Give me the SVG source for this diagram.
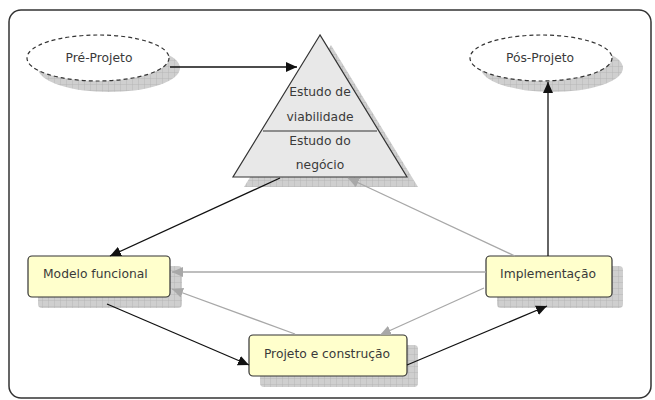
<svg xmlns="http://www.w3.org/2000/svg" width="655" height="400" viewBox="0 0 655 400">
  <defs>
    <!-- hatched grey drop shadow -->
    <pattern id="grid" patternUnits="userSpaceOnUse" width="6" height="6">
      <rect width="6" height="6" fill="#cfcfcf"/>
      <path d="M0,0 V6 M0,0 H6" stroke="#b3b3b3" stroke-width="0.8" fill="none"/>
    </pattern>
    <marker id="arrDark" markerUnits="userSpaceOnUse" markerWidth="11" markerHeight="10" refX="11" refY="5" orient="auto">
      <path d="M0,0 L11,5 L0,10 z" fill="#111"/>
    </marker>
    <marker id="arrLight" markerUnits="userSpaceOnUse" markerWidth="11" markerHeight="10" refX="11" refY="5" orient="auto">
      <path d="M0,0 L11,5 L0,10 z" fill="#a8a8a8"/>
    </marker>
    <style>
      .frame { fill: #ffffff; stroke: #333333; stroke-width: 1.5; }
      .shadow { fill: url(#grid); }
      .oval { fill: #ffffff; stroke: #333333; stroke-width: 1.2; stroke-dasharray: 4 3; }
      .box { fill: #ffffcc; stroke: #333333; stroke-width: 1.2; }
      .pyr { fill: #e8e8e8; stroke: #333333; stroke-width: 1.2; }
      .lbl { font-family: "DejaVu Sans", "Liberation Sans", sans-serif; font-size: 12.3px; fill: #3a3a3a; }
      .mid { text-anchor: middle; }
      .dark { stroke: #111111; stroke-width: 1.3; fill: none; marker-end: url(#arrDark); }
      .light { stroke: #a8a8a8; stroke-width: 1.3; fill: none; marker-end: url(#arrLight); }
    </style>
  </defs>

  <rect class="frame" x="9" y="10" width="642" height="388" rx="12" ry="12"/>

  <g id="pre-projeto">
    <ellipse class="shadow" cx="109" cy="68" rx="71" ry="24"/>
    <ellipse class="oval" cx="98" cy="58" rx="71" ry="23"/>
    <text class="lbl mid" x="99" y="62">Pré-Projeto</text>
  </g>

  <g id="pos-projeto">
    <ellipse class="shadow" cx="552" cy="68" rx="71" ry="24"/>
    <ellipse class="oval" cx="541" cy="58" rx="71" ry="23"/>
    <text class="lbl mid" x="540" y="62">Pós-Projeto</text>
  </g>

  <g id="estudo">
    <polygon class="shadow" points="331,45 244,187 418,187"/>
    <polygon class="pyr" points="320,35 233,177 407,177"/>
    <line x1="263" y1="131" x2="377" y2="131" stroke="#333333" stroke-width="1.2"/>
    <text class="lbl mid" x="320" y="96">Estudo de</text>
    <text class="lbl mid" x="320" y="121">viabilidade</text>
    <text class="lbl mid" x="320" y="145">Estudo do</text>
    <text class="lbl mid" x="320" y="169">negócio</text>
  </g>

  <g id="modelo-funcional">
    <rect class="shadow" x="38" y="266" width="144" height="42" rx="4"/>
    <rect class="box" x="28" y="256" width="142" height="41" rx="4"/>
    <text class="lbl" x="43" y="278">Modelo funcional</text>
  </g>

  <g id="projeto-construcao">
    <rect class="shadow" x="260" y="345" width="158" height="42" rx="4"/>
    <rect class="box" x="249" y="335" width="158" height="41" rx="4"/>
    <text class="lbl mid" x="327" y="358">Projeto e construção</text>
  </g>

  <g id="implementacao">
    <rect class="shadow" x="497" y="266" width="126" height="42" rx="4"/>
    <rect class="box" x="486" y="256" width="126" height="41" rx="4"/>
    <text class="lbl mid" x="548" y="278">Implementação</text>
  </g>

  <g id="connectors">
    <path class="dark" d="M170,67 L297,67"/>
    <path class="dark" d="M280,178 L110,256"/>
    <path class="light" d="M515,256 L348,178"/>
    <path class="light" d="M486,272 L172,272"/>
    <path class="light" d="M295,334 L172,289"/>
    <path class="light" d="M484,288 L380,335"/>
    <path class="dark" d="M107,304 L249,365"/>
    <path class="dark" d="M407,365 L547,306"/>
    <path class="dark" d="M548,256 L548,82"/>
  </g>
</svg>
